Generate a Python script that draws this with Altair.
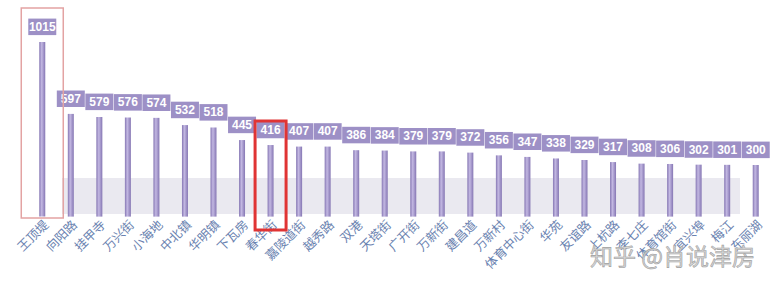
import altair as alt
import pandas as pd

categories = ["王顶堤", "向阳路", "挂甲寺", "万兴街", "小海地", "中北镇", "华明镇", "下瓦房",
              "春华街", "嘉陵道街", "越秀路", "双港", "天塔街", "广开街", "万新街", "建昌道",
              "万新村", "体育中心街", "华苑", "友谊路", "上杭路", "李七庄", "体育馆街", "宜兴埠",
              "梅江", "东丽湖"]
values = [1015, 597, 579, 576, 574, 532, 518, 445, 416, 407, 407, 386, 384, 379, 379, 372,
          356, 347, 338, 329, 317, 308, 306, 302, 301, 300]

# highlight boxes (in value units)
pink_name = ["王顶堤"]
pink_top = [1213]
pink_bottom = [-8]
red_name = ["春华街"]
red_top = [556]
red_bottom = [-78]

df = pd.DataFrame({"name": categories, "value": values})
pink_df = pd.DataFrame({"name": pink_name, "top": pink_top, "bottom": pink_bottom})
red_df = pd.DataFrame({"name": red_name, "top": red_top, "bottom": red_bottom})

yscale = alt.Scale(domain=[21, 1259], nice=False, zero=False)
xscale = alt.Scale(domain=categories, paddingInner=0, paddingOuter=0)

xenc = alt.X("name:N", sort=categories, scale=xscale,
             axis=alt.Axis(title=None, labelAngle=-45, labelColor="#6a82b0",
                           labelFontSize=12.5, labelFont="Noto Sans CJK SC",
                           domain=False, ticks=False, grid=False, labelPadding=5,
                           labelAlign="right", labelBaseline="top"))

floor = alt.Chart(pd.DataFrame({"a": [0]})).mark_rect(color="#eae9f0").encode(
    x=alt.value(34), x2=alt.value(712), y=alt.value(178), y2=alt.value(214)
)

grad = alt.Gradient(gradient="linear", x1=0, x2=1, y1=0, y2=0,
                    stops=[alt.GradientStop(color="#8576b3", offset=0),
                           alt.GradientStop(color="#c3b8e2", offset=0.4),
                           alt.GradientStop(color="#8576b3", offset=1)])

bars = alt.Chart(df).mark_bar(width=6, color=grad).encode(
    x=xenc,
    y=alt.Y("value:Q", scale=yscale, axis=None),
)

boxes = alt.Chart(df).transform_calculate(
    b0="datum.value + 40", b1="datum.value + 136"
).mark_bar(width=28, color="#9d90c6").encode(
    x=xenc,
    y=alt.Y("b0:Q", scale=yscale, axis=None),
    y2="b1:Q",
)

labels = alt.Chart(df).transform_calculate(
    c="datum.value + 88"
).mark_text(color="white", fontSize=12, font="Liberation Sans", fontWeight="bold",
            baseline="middle").encode(
    x=xenc,
    y=alt.Y("c:Q", scale=yscale, axis=None),
    text="value:Q",
)

pink = alt.Chart(pink_df).mark_bar(width=42, filled=False, stroke="#e3a3a3",
                                   strokeWidth=1.5).encode(
    x=xenc,
    y=alt.Y("top:Q", scale=yscale, axis=None),
    y2="bottom:Q",
)

red = alt.Chart(red_df).mark_bar(width=31, filled=False, stroke="#e03434",
                                 strokeWidth=3).encode(
    x=xenc,
    y=alt.Y("top:Q", scale=yscale, axis=None),
    y2="bottom:Q",
)

watermark = alt.Chart(pd.DataFrame({"t": ["知乎 @肖说津房"]})).mark_text(
    fontSize=23, font="Noto Sans CJK SC", color="#d6d6d6", stroke="#a0a0a0",
    strokeWidth=0.6, align="left", baseline="middle"
).encode(x=alt.value(562), y=alt.value(45 + 213), text="t:N")

chart = alt.layer(floor, bars, boxes, labels, pink, red, watermark).properties(
    width=742, height=213,
    padding={"left": 28, "top": 0, "right": 12, "bottom": 75},
    autosize=alt.AutoSizeParams(type="none"),
    background="white",
).configure_view(stroke=None)

chart.save("out.html", embed_options={"renderer": "svg", "actions": False})
